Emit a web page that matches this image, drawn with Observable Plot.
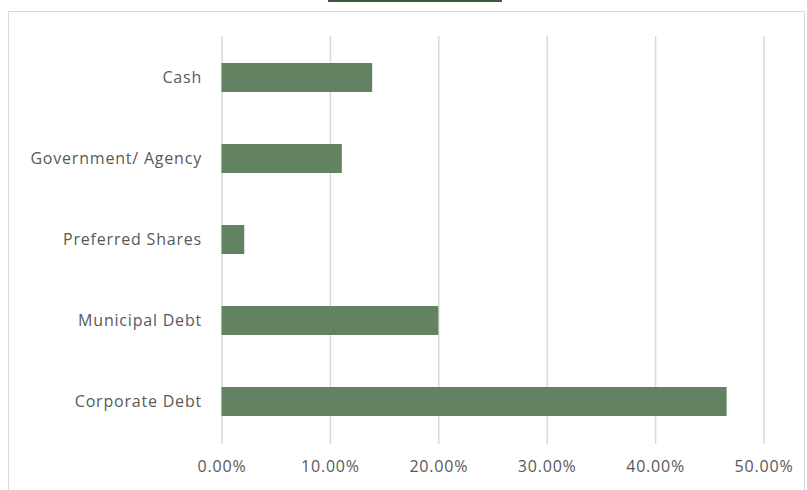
<!DOCTYPE html>
<html>
<head>
<meta charset="utf-8">
<script src="https://cdn.jsdelivr.net/npm/d3@7"></script>
<script src="https://cdn.jsdelivr.net/npm/@observablehq/plot@0.6"></script>
<style>
  html, body { margin: 0; padding: 0; background: #fff; }
  #wrap { position: relative; width: 807px; height: 490px; overflow: hidden; }
  #frame { position: absolute; left: 8px; top: 11px; width: 797px; height: 490px; border: 1px solid #d9d9d9; box-sizing: border-box; }
  #legend { position: absolute; left: 328px; top: 0; width: 174px; height: 2px; background: #3b5a3b; }
  #chart { position: absolute; left: 0; top: 0; }
  #chart text { letter-spacing: 0.8px; }
</style>
</head>
<body>
<div id="wrap">
  <div id="frame"></div>
  <div id="legend"></div>
  <div id="chart"></div>
</div>
<script>
const categories = ["Cash", "Government/ Agency", "Preferred Shares", "Municipal Debt", "Corporate Debt"];
const values = [0.139, 0.111, 0.021, 0.200, 0.466];
const xTicks = [0, 0.1, 0.2, 0.3, 0.4, 0.5];

const data = categories.map((c, i) => ({category: c, value: values[i]}));

const chart = Plot.plot({
  width: 807,
  height: 490,
  marginTop: 36,
  marginBottom: 46,
  marginLeft: 221.5,
  marginRight: 43.5,
  style: {fontFamily: "'Open Sans', sans-serif", fontSize: "16px", color: "#595959", background: "transparent"},
  x: {domain: [0, 0.5], ticks: xTicks, tickFormat: d3.format(".2%"), label: null, tickSize: 0, tickPadding: 16},
  y: {domain: categories, label: null, paddingInner: 0.64, paddingOuter: 0.32, tickSize: 0, tickPadding: 20},
  marks: [
    Plot.gridX(xTicks, {stroke: "#d9d9d9", strokeOpacity: 1, strokeWidth: 1.5}),
    Plot.barX(data, {x: "value", y: "category", fill: "#628262"}),
    Plot.axisX({ticks: xTicks, tickFormat: d3.format(".2%"), tickSize: 0, tickPadding: 16, label: null, fill: "#595959"}),
    Plot.axisY({tickSize: 0, tickPadding: 20, label: null, fill: "#595959"})
  ]
});
document.getElementById("chart").appendChild(chart);
</script>
</body>
</html>
